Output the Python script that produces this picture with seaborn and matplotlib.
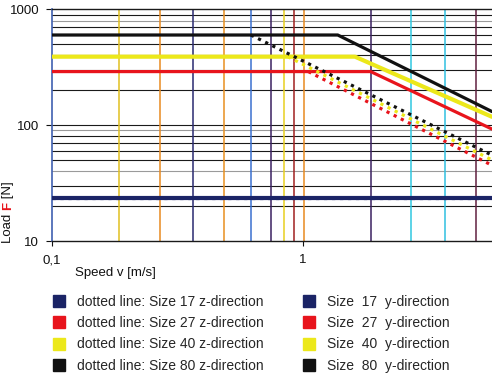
import numpy as np
import pandas as pd
import matplotlib
matplotlib.use("Agg")
import matplotlib.pyplot as plt
from matplotlib.lines import Line2D
from matplotlib.ticker import NullLocator
import seaborn as sns

# axis range
speed_range = [0.1, 5.66]
load_range = [10, 1000]

# y-direction (solid lines)
y17_speed = [0.1, 5.66]
y17_load = [23.5, 23.5]
y27_speed = [0.1, 1.86, 5.66]
y27_load = [290, 290, 92.5]
y40_speed = [0.1, 1.61, 5.66]
y40_load = [390, 390, 118]
y80_speed = [0.1, 1.375, 5.66]
y80_load = [600, 600, 131]

# z-direction (dotted lines)
z17_speed = [0.1, 5.66]
z17_load = [23.5, 23.5]
z27_speed = [1.05, 5.66]
z27_load = [290, 45]
z40_speed = [0.87, 5.66]
z40_load = [390, 50]
z80_speed = [0.62, 5.66]
z80_load = [600, 55]

# coloured vertical lines of the chart
vline_speeds = [0.185, 0.269, 0.366, 0.484, 0.62, 0.744, 0.838, 0.921, 1.01, 1.86, 2.69, 3.68, 4.87]
vline_colors = ["#e0c020", "#e88a20", "#2a2a70", "#e89020", "#3a70d0", "#3a2060", "#e8d020",
                "#a02020", "#e88a20", "#3a2060", "#30c8e0", "#30c0e0", "#602040"]

# horizontal grid lines
hline_loads = [20, 30, 40, 50, 60, 70, 80, 90, 100, 200, 300, 400, 500, 600, 700, 800, 900]
hline_grey = [40, 90, 800]

sizes = ["17", "27", "40", "80"]
size_colors = ["#1b2466", "#e8141c", "#ece81a", "#111111"]

y_series = [(y17_speed, y17_load), (y27_speed, y27_load), (y40_speed, y40_load), (y80_speed, y80_load)]
z_series = [(z17_speed, z17_load), (z27_speed, z27_load), (z40_speed, z40_load), (z80_speed, z80_load)]

sns.set_style("white")
plt.rcParams["font.family"] = ["Liberation Sans", "DejaVu Sans"]

fig = plt.figure(figsize=(4.92, 3.75), dpi=100)
ax = fig.add_axes([52 / 492, 1 - 241 / 375, 1 - 52 / 492, (241 - 9.3) / 375])
ax.set_xscale("log")
ax.set_yscale("log")
ax.set_xlim(speed_range)
ax.set_ylim(load_range)

for v in hline_loads:
    c = "#9a9a9a" if v in hline_grey else "#1a1a1a"
    ax.axhline(v, color=c, lw=0.8, zorder=1)
for v, c in zip(vline_speeds, vline_colors):
    ax.axvline(v, color=c, lw=1.1, zorder=1)

# dotted z-direction lines (size 17 sits under its solid twin)
for (sp, ld), c, z in zip(z_series, size_colors, [2, 4, 4, 4]):
    sns.lineplot(x=sp, y=ld, ax=ax, color=c, lw=2.3, zorder=z,
                 linestyle=(0, (1.0, 1.5)))
widths = [3.0, 2.3, 3.0, 2.3]
for (sp, ld), c, w in zip(y_series, size_colors, widths):
    sns.lineplot(x=sp, y=ld, ax=ax, color=c, lw=w, zorder=3)

ax.set_xticks([0.1, 1])
ax.set_xticklabels(["0,1", "1"])
ax.set_yticks([10, 100, 1000])
ax.set_yticklabels(["10", "100", "1000"])
ax.xaxis.set_minor_locator(NullLocator())
ax.yaxis.set_minor_locator(NullLocator())
ax.tick_params(axis="y", length=4.3, width=0.8, pad=5, labelsize=9.5, colors="#111111",
               direction="out", left=True)
ax.tick_params(axis="x", length=3.6, width=0.8, pad=6, labelsize=9.5, colors="#111111",
               direction="out", bottom=True)
ax.set_xlabel("")
ax.set_ylabel("")

for s in ["top", "bottom"]:
    ax.spines[s].set_color("#1a1a1a")
    ax.spines[s].set_linewidth(1.0)
ax.spines["right"].set_visible(False)
ax.spines["left"].set_color("#4060b0")
ax.spines["left"].set_linewidth(1.2)

# axis titles
fig.text(75 / 492, 1 - 273 / 375, "Speed v [m/s]", fontsize=9.5, va="center", ha="left", color="#111111")
t1 = fig.text(8 / 492, 1 - 243 / 375, "Load ", fontsize=9.5, rotation=90, ha="center", va="bottom",
              color="#111111")
t2 = ax.annotate("F", xy=(0.5, 1), xycoords=t1, fontsize=9.5, rotation=90, ha="center", va="bottom",
                 color="#e8141c", fontweight="bold")
ax.annotate(" [N]", xy=(0.5, 1), xycoords=t2, fontsize=9.5, rotation=90, ha="center", va="bottom",
            color="#111111")

# legend
handles = []
labels = []
for s, c in zip(sizes, size_colors):
    handles.append(Line2D([], [], marker="s", markersize=9, color=c, lw=0))
    labels.append("dotted line: Size " + s + " z-direction")
for s, c in zip(sizes, size_colors):
    handles.append(Line2D([], [], marker="s", markersize=9, color=c, lw=0))
    labels.append("Size  " + s + "  y-direction")
fig.legend(handles, labels, ncol=2, loc="upper left", bbox_to_anchor=(53 / 492, 1 - 295 / 375),
           frameon=False, fontsize=10, handlelength=0.9, handletextpad=0.8, labelspacing=0.52,
           columnspacing=2.85, borderpad=0, borderaxespad=0)

fig.savefig("out.png", dpi=100)
